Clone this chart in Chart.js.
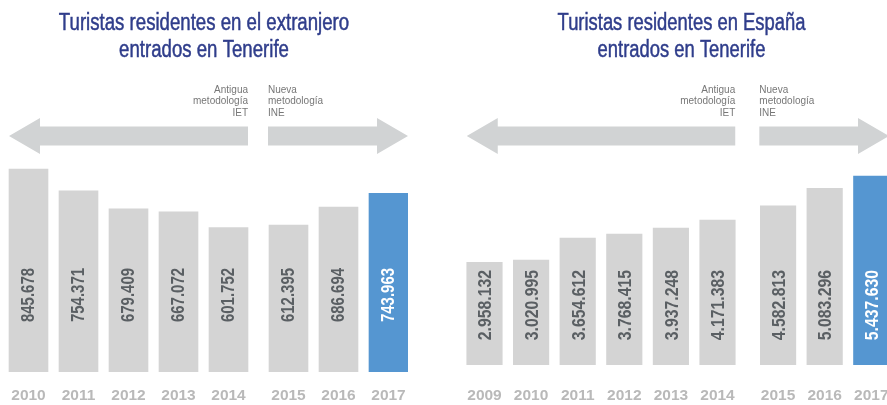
<!DOCTYPE html>
<html lang="es">
<head>
<meta charset="UTF-8">
<title>Turistas entrados en Tenerife</title>
<style>
  * { margin: 0; padding: 0; }
  html, body { width: 887px; height: 405px; overflow: hidden; background: #fff; }
  .wrap { position: relative; width: 887px; height: 405px; overflow: hidden; }
  #chartExt { position: absolute; left: 0; top: 0; }
  #chartEsp { position: absolute; left: 440px; top: 0; }
</style>
</head>
<body>
<div class="wrap">
  <canvas id="chartExt" width="408" height="420"></canvas>
  <canvas id="chartEsp" width="483" height="427"></canvas>
</div>
<script src="https://cdn.jsdelivr.net/npm/chart.js"></script>
<script>
// data
const titleExt = ["Turistas residentes en el extranjero", "entrados en Tenerife"];
const yearsExt = ["2010", "2011", "2012", "2013", "2014", "2015", "2016", "2017"];
const valuesExt = [845678, 754371, 679409, 667072, 601752, 612395, 686694, 743963];

const titleEsp = ["Turistas residentes en España", "entrados en Tenerife"];
const yearsEsp = ["2009", "2010", "2011", "2012", "2013", "2014", "2015", "2016", "2017"];
const valuesEsp = [2958132, 3020995, 3654612, 3768415, 3937248, 4171383, 4582813, 5083296, 5437630];

const noteOld = ["Antigua", "metodología", "IET"];
const noteNew = ["Nueva", "metodología", "INE"];
const firstNewYear = "2015";

const SANS = "'Liberation Sans', Arial, sans-serif";
const GREY = "#d4d4d4";
const BLUE = "#5596d1";
const NAVY = "#2f3d8b";

const fmt = (v) => String(v).replace(/\B(?=(\d{3})+(?!\d))/g, ".");

// the original uses a condensed DIN face, so squeeze Liberation Sans sideways
function squeeze(ctx, text, x, y, sx, stroke) {
  ctx.save();
  ctx.translate(x, y);
  ctx.scale(sx, 1);
  ctx.fillText(text, 0, 0);
  if (stroke) ctx.strokeText(text, 0, 0);
  ctx.restore();
}

const decor = {
  id: "decor",
  afterDatasetsDraw(chart, args, o) {
    const ctx = chart.ctx;
    const bars = chart.getDatasetMeta(0).data;
    const w = bars[0].width;
    const split = o.split;
    const firstL = bars[0].x - w / 2;
    const oldR = bars[split - 1].x + w / 2;
    const newL = bars[split].x - w / 2 - 1;
    const lastR = bars[bars.length - 1].x + w / 2;
    const top = chart.chartArea.top;
    const cy = top - 24;
    const head = 31, hh = 18, sh = 9.5;

    ctx.save();

    // title
    ctx.fillStyle = NAVY;
    ctx.strokeStyle = NAVY;
    ctx.lineWidth = 0.5;
    ctx.font = "23px " + SANS;
    ctx.textAlign = "center";
    ctx.textBaseline = "alphabetic";
    o.title.forEach((t, i) => squeeze(ctx, t, chart.width / 2, 30 + i * 27, o.titleScale, true));

    // arrows
    ctx.fillStyle = "#d1d3d4";
    ctx.beginPath();
    ctx.moveTo(firstL, cy);
    ctx.lineTo(firstL + head, cy - hh);
    ctx.lineTo(firstL + head, cy - sh);
    ctx.lineTo(oldR, cy - sh);
    ctx.lineTo(oldR, cy + sh);
    ctx.lineTo(firstL + head, cy + sh);
    ctx.lineTo(firstL + head, cy + hh);
    ctx.closePath();
    ctx.fill();

    ctx.beginPath();
    ctx.moveTo(lastR, cy);
    ctx.lineTo(lastR - head, cy - hh);
    ctx.lineTo(lastR - head, cy - sh);
    ctx.lineTo(newL, cy - sh);
    ctx.lineTo(newL, cy + sh);
    ctx.lineTo(lastR - head, cy + sh);
    ctx.lineTo(lastR - head, cy + hh);
    ctx.closePath();
    ctx.fill();

    ctx.font = "10px " + SANS;
    ctx.fillStyle = "#777";
    ctx.textBaseline = "middle";
    noteOld.forEach((t, i) => {
      ctx.textAlign = "right";
      ctx.fillText(t, oldR, top - 70 + i * 11.5);
    });
    noteNew.forEach((t, i) => {
      ctx.textAlign = "left";
      ctx.fillText(t, newL, top - 70 + i * 11.5);
    });

    // value labels, rotated, anchored at a fixed height
    ctx.font = "bold " + o.labelSize + "px " + SANS;
    bars.forEach((b, i) => {
      ctx.save();
      ctx.translate(b.x + o.labelShift, top + o.labelTop);
      ctx.rotate(-Math.PI / 2);
      ctx.textAlign = "right";
      ctx.textBaseline = "alphabetic";
      ctx.fillStyle = i === bars.length - 1 ? "#ffffff" : "#5a5f63";
      squeeze(ctx, fmt(o.values[i]), 0, 0, 0.83, false);
      ctx.restore();
    });
    ctx.restore();
  }
};

function makeChart(id, title, years, values, c) {
  const split = years.indexOf(firstNewYear);
  const pos = years.map((y, i) => i + (i >= split ? c.gap : 0));
  return new Chart(document.getElementById(id), {
    type: "bar",
    data: {
      datasets: [{
        data: values.map((v, i) => ({ x: pos[i], y: v })),
        backgroundColor: (ctx) => (ctx.dataIndex === values.length - 1 ? BLUE : GREY),
        barThickness: c.barThickness,
        borderWidth: 0
      }]
    },
    options: {
      responsive: false,
      animation: false,
      layout: { padding: { top: 160 } },
      plugins: {
        legend: { display: false },
        tooltip: { enabled: false },
        title: { display: false },
        decor: {
          split: split, values: values, title: title, titleScale: c.titleScale,
          labelSize: c.labelSize, labelShift: c.labelShift, labelTop: c.labelTop
        }
      },
      scales: {
        x: {
          type: "linear",
          min: c.xMin,
          max: c.xMax,
          offset: false,
          grid: { display: false, drawTicks: false },
          border: { display: false },
          afterBuildTicks: (s) => { s.ticks = pos.map((v) => ({ value: v })); },
          ticks: {
            autoSkip: false,
            maxRotation: 0,
            padding: 0,
            color: "#b9b9b9",
            font: { family: SANS, size: 15.5, weight: "bold", lineHeight: c.tickLine / 15.5 },
            callback: (v, i) => years[i]
          }
        },
        y: { display: false, min: 0, max: c.yMax }
      }
    },
    plugins: [decor]
  });
}

makeChart("chartExt", titleExt, yearsExt, valuesExt, {
  gap: 0.2, barThickness: 39, xMin: -0.57, xMax: 7.59, yMax: 883000, titleScale: 0.81,
  tickLine: 48, labelSize: 18, labelShift: 5, labelTop: 108
});

makeChart("chartEsp", titleEsp, yearsEsp, valuesEsp, {
  gap: 0.3, barThickness: 35.5, xMin: -0.955, xMax: 9.41, yMax: 5900000, titleScale: 0.8,
  tickLine: 62, labelSize: 19, labelShift: 6.8, labelTop: 110
});
</script>
</body>
</html>
